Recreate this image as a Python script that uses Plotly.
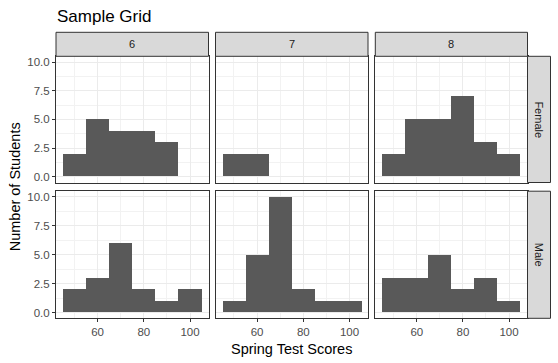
import plotly.graph_objects as go

W, H = 558, 363

bin_centers = [50, 60, 70, 80, 90, 100]
grades = ["6", "7", "8"]
genders = ["Female", "Male"]
female_6 = [2, 5, 4, 4, 3, 0]
female_7 = [2, 2, 0, 0, 0, 0]
female_8 = [2, 5, 5, 7, 3, 2]
male_6 = [2, 3, 6, 2, 1, 2]
male_7 = [1, 5, 10, 2, 1, 1]
male_8 = [3, 3, 5, 2, 3, 1]
counts = {("Female", "6"): female_6, ("Female", "7"): female_7, ("Female", "8"): female_8,
          ("Male", "6"): male_6, ("Male", "7"): male_7, ("Male", "8"): male_8}
y_ticks = [0, 2.5, 5, 7.5, 10]
y_ticktext = ["0.0", "2.5", "5.0", "7.5", "10.0"]
x_ticks = [60, 80, 100]

def px(x):
    return x / W

def py(y):
    return 1 - y / H

cols = [(56, 208.5), (215.5, 368), (375.3, 527.5)]
rows = [(56.3, 182.5), (191.2, 318.3)]
strip_top = 32.3
strip_right = 550.5

FONT = "Liberation Sans, Arial, sans-serif"
fig = go.Figure()
layout = dict(
    width=W, height=H, margin=dict(l=0, r=0, t=0, b=0),
    paper_bgcolor="white", plot_bgcolor="white", showlegend=False,
    font=dict(family=FONT, color="#4D4D4D", size=11),
    bargap=0,
)
shapes = []
annotations = []
k = 0
for ri, g in enumerate(genders):
    for ci, gr in enumerate(grades):
        k += 1
        xa = "x" if k == 1 else f"x{k}"
        ya = "y" if k == 1 else f"y{k}"
        fig.add_trace(go.Bar(x=bin_centers, y=counts[(g, gr)], width=10,
                             marker=dict(color="#595959", line=dict(width=0)),
                             xaxis=xa, yaxis=ya, hoverinfo="skip"))
        bottom = ri == 1
        left = ci == 0
        layout["xaxis" if k == 1 else f"xaxis{k}"] = dict(
            domain=[px(cols[ci][0]), px(cols[ci][1])], anchor=ya,
            range=[42, 108], tickvals=x_ticks, showticklabels=bottom,
            ticks="outside" if bottom else "", ticklen=3, tickcolor="#333333", tickwidth=1,
            showgrid=True, gridcolor="#EBEBEB", gridwidth=1,
            minor=dict(tickvals=[50, 70, 90], showgrid=True, gridcolor="#F2F2F2", gridwidth=0.6),
            showline=True, mirror=True, linecolor="#333333", linewidth=1,
            zeroline=False, tickfont=dict(size=11.5, color="#4D4D4D"), fixedrange=True,
        )
        layout["yaxis" if k == 1 else f"yaxis{k}"] = dict(
            domain=[py(rows[ri][1]), py(rows[ri][0])], anchor=xa,
            range=[-0.5, 10.5], tickvals=y_ticks, ticktext=y_ticktext, showticklabels=left,
            ticks="outside" if left else "", ticklen=3, tickcolor="#333333", tickwidth=1,
            showgrid=True, gridcolor="#EBEBEB", gridwidth=1,
            minor=dict(tickvals=[1.25, 3.75, 6.25, 8.75], showgrid=True, gridcolor="#F2F2F2", gridwidth=0.6),
            showline=True, mirror=True, linecolor="#333333", linewidth=1,
            zeroline=False, tickfont=dict(size=11.5, color="#4D4D4D"), fixedrange=True,
        )

# top strips
for ci, gr in enumerate(grades):
    x0, x1 = cols[ci]
    shapes.append(dict(type="rect", xref="paper", yref="paper", x0=px(x0), x1=px(x1),
                       y0=py(rows[0][0]), y1=py(strip_top), fillcolor="#D9D9D9",
                       line=dict(color="#333333", width=1), layer="above"))
    annotations.append(dict(text=gr, xref="paper", yref="paper", x=px((x0 + x1) / 2),
                            y=py((strip_top + rows[0][0]) / 2), showarrow=False,
                            font=dict(size=11, color="#1A1A1A"), xanchor="center", yanchor="middle"))
# right strips
for ri, g in enumerate(genders):
    y0, y1 = rows[ri]
    shapes.append(dict(type="rect", xref="paper", yref="paper", x0=px(cols[2][1]), x1=px(strip_right),
                       y0=py(y1), y1=py(y0), fillcolor="#D9D9D9",
                       line=dict(color="#333333", width=1), layer="above"))
    annotations.append(dict(text=g, xref="paper", yref="paper", x=px((cols[2][1] + strip_right) / 2),
                            y=py((y0 + y1) / 2), showarrow=False, textangle=90,
                            font=dict(size=11, color="#1A1A1A"), xanchor="center", yanchor="middle"))

annotations.append(dict(text="Sample Grid", xref="paper", yref="paper", x=px(55), y=py(16.5),
                        showarrow=False, xanchor="left", yanchor="middle",
                        font=dict(size=17, color="black")))
annotations.append(dict(text="Spring Test Scores", xref="paper", yref="paper",
                        x=px((cols[0][0] + cols[2][1]) / 2), y=py(348.5), showarrow=False,
                        xanchor="center", yanchor="middle", font=dict(size=14.5, color="black")))
annotations.append(dict(text="Number of Students", xref="paper", yref="paper",
                        x=px(15), y=py((rows[0][0] + rows[1][1]) / 2), showarrow=False, textangle=-90,
                        xanchor="center", yanchor="middle", font=dict(size=14.5, color="black")))

layout["shapes"] = shapes
layout["annotations"] = annotations
fig.update_layout(**layout)
fig.write_html("out.html", config={"displayModeBar": False},
               post_script="document.body.style.margin='0';document.body.style.overflow='hidden';")
